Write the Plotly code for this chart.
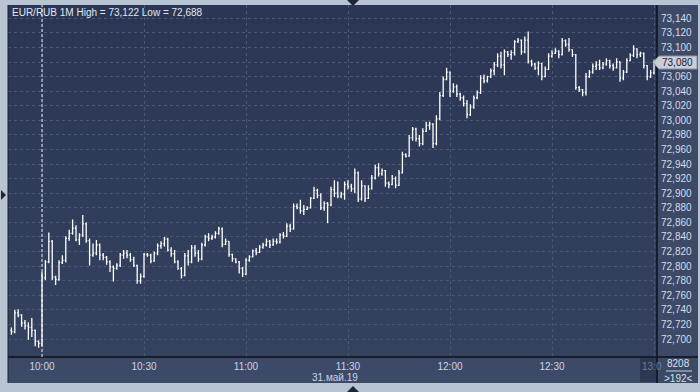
import base64
import pandas as pd
import plotly.graph_objects as go

# EUR/RUB 1-minute bars, 31 May 2019, 09:51 .. 13:00
# prices written in thousandths above 72.000 (e.g. 712 -> 72.712)
BASE = 72.0
start_time = "2019-05-31 09:51"

open_ = [
    712, 710, 736, 733, 722, 718, 716, 712, 697, 694,
    784, 806, 834, 785, 782, 805, 808, 838, 845, 852,
    836, 843, 858, 835, 815, 818, 829, 815, 812, 806,
    799, 797, 801, 815, 818, 815, 809, 801, 780, 786,
    816, 815, 807, 818, 828, 831, 837, 822, 817, 806,
    797, 787, 814, 806, 825, 818, 810, 829, 840, 838,
    840, 845, 851, 830, 834, 816, 810, 806, 797, 789,
    808, 813, 821, 819, 826, 829, 834, 829, 834, 833,
    843, 841, 855, 851, 882, 880, 876, 878, 880, 893,
    904, 897, 880, 886, 884, 905, 900, 896, 899, 912,
    909, 906, 928, 892, 910, 893, 906, 921, 935, 927,
    931, 914, 912, 920, 911, 928, 953, 951, 976, 988,
    975, 968, 985, 993, 995, 968, 1002, 1034, 1056, 1066,
    1040, 1046, 1036, 1031, 1023, 1008, 1018, 1031, 1038, 1058,
    1054, 1060, 1068, 1076, 1088, 1076, 1094, 1090, 1093, 1108,
    1110, 1094, 1110, 1081, 1077, 1072, 1078, 1060, 1070, 1088,
    1092, 1095, 1090, 1109, 1104, 1097, 1090, 1045, 1042, 1038,
    1060, 1066, 1074, 1076, 1072, 1077, 1082, 1075, 1072, 1080,
    1058, 1066, 1082, 1089, 1098, 1090, 1092, 1075, 1060, 1065,
]
high = [
    716, 740, 741, 734, 726, 723, 729, 713, 698, 792,
    808, 846, 836, 787, 808, 815, 841, 850, 864, 856,
    845, 870, 860, 838, 831, 836, 831, 818, 814, 808,
    801, 804, 818, 822, 822, 818, 813, 802, 790, 818,
    818, 817, 820, 831, 834, 840, 839, 826, 822, 808,
    799, 818, 822, 829, 829, 822, 832, 843, 845, 843,
    848, 854, 853, 838, 834, 817, 811, 807, 799, 811,
    815, 823, 825, 829, 832, 838, 836, 838, 838, 845,
    847, 859, 858, 886, 886, 891, 884, 882, 895, 909,
    906, 900, 889, 888, 909, 918, 916, 902, 916, 918,
    913, 934, 930, 918, 911, 911, 925, 939, 941, 934,
    932, 916, 925, 923, 932, 957, 955, 980, 991, 990,
    980, 989, 998, 998, 996, 1007, 1039, 1060, 1072, 1067,
    1051, 1049, 1038, 1034, 1028, 1022, 1034, 1041, 1062, 1063,
    1061, 1071, 1080, 1092, 1094, 1097, 1095, 1096, 1110, 1113,
    1111, 1115, 1122, 1083, 1079, 1081, 1079, 1074, 1092, 1096,
    1099, 1096, 1113, 1111, 1113, 1097, 1091, 1047, 1043, 1065,
    1069, 1078, 1081, 1083, 1080, 1085, 1083, 1078, 1085, 1081,
    1069, 1085, 1092, 1103, 1099, 1094, 1093, 1076, 1069, 1083,
]
low = [
    706, 708, 730, 717, 713, 699, 703, 690, 688, 690,
    781, 804, 781, 774, 780, 803, 805, 835, 843, 834,
    829, 840, 832, 801, 813, 815, 808, 808, 802, 792,
    779, 795, 799, 810, 811, 806, 799, 776, 776, 784,
    813, 804, 806, 815, 824, 827, 820, 813, 804, 795,
    783, 786, 801, 804, 813, 806, 808, 827, 834, 836,
    838, 843, 826, 829, 813, 806, 804, 790, 785, 788,
    806, 812, 815, 818, 824, 827, 825, 828, 830, 831,
    838, 840, 847, 850, 878, 872, 870, 877, 879, 892,
    893, 877, 876, 859, 882, 895, 893, 893, 891, 905,
    902, 900, 888, 890, 888, 892, 905, 919, 923, 924,
    909, 907, 911, 907, 910, 927, 949, 950, 972, 971,
    964, 966, 984, 987, 962, 966, 1000, 1032, 1055, 1032,
    1038, 1032, 1027, 1019, 1003, 1006, 1016, 1029, 1036, 1051,
    1052, 1058, 1062, 1073, 1071, 1062, 1087, 1083, 1089, 1106,
    1090, 1092, 1078, 1074, 1069, 1062, 1055, 1059, 1069, 1086,
    1091, 1085, 1089, 1101, 1094, 1087, 1042, 1039, 1033, 1034,
    1058, 1064, 1069, 1069, 1070, 1075, 1071, 1068, 1071, 1053,
    1055, 1065, 1081, 1087, 1085, 1087, 1071, 1055, 1058, 1063,
]
close = [
    710, 736, 733, 722, 718, 716, 712, 697, 694, 784,
    806, 834, 785, 782, 805, 808, 838, 845, 852, 836,
    843, 858, 835, 815, 818, 829, 815, 812, 806, 799,
    797, 801, 815, 818, 815, 809, 801, 780, 786, 816,
    815, 807, 818, 828, 831, 837, 822, 817, 806, 797,
    787, 814, 806, 825, 818, 810, 829, 840, 838, 840,
    845, 851, 830, 834, 816, 810, 806, 797, 789, 808,
    813, 821, 819, 826, 829, 834, 829, 834, 833, 843,
    841, 855, 851, 882, 880, 876, 878, 880, 893, 904,
    897, 880, 886, 884, 905, 900, 896, 899, 912, 909,
    906, 928, 892, 910, 893, 906, 921, 935, 927, 931,
    914, 912, 920, 911, 928, 953, 951, 976, 988, 975,
    968, 985, 993, 995, 968, 1002, 1034, 1056, 1066, 1040,
    1046, 1036, 1031, 1023, 1008, 1018, 1031, 1038, 1058, 1054,
    1060, 1068, 1076, 1088, 1076, 1094, 1090, 1093, 1108, 1110,
    1094, 1110, 1081, 1077, 1072, 1078, 1060, 1070, 1088, 1092,
    1095, 1090, 1109, 1104, 1097, 1090, 1045, 1042, 1038, 1060,
    1066, 1074, 1076, 1072, 1077, 1082, 1075, 1072, 1080, 1058,
    1066, 1082, 1089, 1098, 1090, 1092, 1075, 1060, 1065, 1080,
]

x_tick_vals = ["2019-05-31 10:00", "2019-05-31 10:30", "2019-05-31 11:00",
               "2019-05-31 11:30", "2019-05-31 12:00", "2019-05-31 12:30",
               "2019-05-31 13:00"]
x_tick_text = ["10:00", "10:30", "11:00", "11:30", "12:00", "12:30", ""]
y_tick_vals = [72.70, 72.72, 72.74, 72.76, 72.78, 72.80, 72.82, 72.84, 72.86,
               72.88, 72.90, 72.92, 72.94, 72.96, 72.98, 73.00, 73.02, 73.04,
               73.06, 73.08, 73.10, 73.12, 73.14]

title_text = "EUR/RUB 1M High = 73,122 Low = 72,688"
date_text = "31.май.19"
last_price_text = "73,080"

times = pd.date_range(start_time, periods=len(close), freq="min")
conv = lambda a: [BASE + v / 1000.0 for v in a]

FONT = "Liberation Sans, Arial, sans-serif"
W, H = 700, 392
ML, MR, MT, MB = 8, 43, 5, 35
PW, PH = W - ML - MR, H - MT - MB


def px(xp):
    return (xp - ML) / PW


def py(yp):
    return (H - MB - yp) / PH


# vertical background gradient of the plotting area
svg = ("<svg xmlns='http://www.w3.org/2000/svg' width='10' height='100' preserveAspectRatio='none'>"
       "<defs><linearGradient id='g' x1='0' y1='0' x2='0' y2='1'>"
       "<stop offset='0' stop-color='#2a3653'/><stop offset='1' stop-color='#35425f'/>"
       "</linearGradient></defs><rect width='10' height='100' fill='url(#g)'/></svg>")
bg_uri = "data:image/svg+xml;base64," + base64.b64encode(svg.encode()).decode()

fig = go.Figure()
fig.add_trace(go.Ohlc(
    x=times, open=conv(open_), high=conv(high), low=conv(low), close=conv(close),
    increasing=dict(line=dict(color="#ffffff", width=1.3)),
    decreasing=dict(line=dict(color="#ffffff", width=1.3)),
    tickwidth=0.32, hoverinfo="skip", showlegend=False,
))

grid = "#4a5878"
panel = "#3c4a67"
shapes = [
    # axis panels (right and bottom)
    dict(type="rect", xref="paper", yref="paper", x0=1, x1=px(698), y0=py(383), y1=py(5),
         fillcolor=panel, line=dict(width=0), layer="below"),
    dict(type="rect", xref="paper", yref="paper", x0=px(8), x1=1, y0=py(383), y1=0,
         fillcolor=panel, line=dict(width=0), layer="below"),
    # 13:0 dark box
    dict(type="rect", xref="paper", yref="paper", x0=px(640), x1=px(656), y0=py(382), y1=py(358),
         fillcolor="#2c3752", line=dict(width=0), layer="above"),
    # separators
    dict(type="line", xref="paper", yref="paper", x0=1, x1=1, y0=py(383), y1=py(5),
         line=dict(color="#0d1018", width=1.5), layer="above"),
    dict(type="line", xref="paper", yref="paper", x0=0, x1=px(698), y0=0, y1=0,
         line=dict(color="#0d1018", width=1.5), layer="above"),
    dict(type="line", xref="paper", yref="paper", x0=px(8), x1=px(8), y0=py(383), y1=py(5),
         line=dict(color="#1a2030", width=1), layer="above"),
    dict(type="line", xref="paper", yref="paper", x0=px(666), x1=px(692), y0=py(371), y1=py(371),
         line=dict(color="#c8d0dc", width=1), layer="above"),
    # cursor line at 10:00
    dict(type="line", xref="x", yref="paper", x0="2019-05-31 10:00", x1="2019-05-31 10:00",
         y0=0, y1=1, line=dict(color="rgba(255,255,255,0.9)", width=1, dash="3px,2px"),
         layer="above"),
    # last price marker
    dict(type="path", xref="paper", yref="paper",
         path=(f"M {px(653)},{py(62.5)} L {px(659)},{py(56)} L {px(697)},{py(56)} "
               f"L {px(697)},{py(69)} L {px(659)},{py(69)} Z"),
         fillcolor="#c9ced8", line=dict(color="#8a93a3", width=1), layer="above"),
    # frame arrows
    dict(type="path", xref="paper", yref="paper",
         path=f"M {px(347)},{py(0)} L {px(359)},{py(0)} L {px(353)},{py(6)} Z",
         fillcolor="#1e2635", line=dict(width=0), layer="above"),
    dict(type="path", xref="paper", yref="paper",
         path=f"M {px(347)},{py(392)} L {px(359)},{py(392)} L {px(353)},{py(386)} Z",
         fillcolor="#1e2635", line=dict(width=0), layer="above"),
    dict(type="path", xref="paper", yref="paper",
         path=f"M {px(1)},{py(190)} L {px(1)},{py(200)} L {px(6)},{py(195)} Z",
         fillcolor="#1e2635", line=dict(width=0), layer="above"),
]

annotations = [
    dict(text=title_text, xref="paper", yref="paper", x=px(10), y=py(12),
         xanchor="left", yanchor="middle", showarrow=False,
         font=dict(family=FONT, size=10, color="#e2e8f0")),
    dict(text=date_text, xref="paper", yref="paper", x=px(335), y=py(377),
         xanchor="center", yanchor="middle", showarrow=False,
         font=dict(family=FONT, size=10, color="#c9d5e8")),
    dict(text="13:0", xref="paper", yref="paper", x=px(640), y=py(366),
         xanchor="left", yanchor="middle", showarrow=False,
         font=dict(family=FONT, size=10, color="#6f7c93")),
    dict(text="8208", xref="paper", yref="paper", x=px(679), y=py(364),
         xanchor="center", yanchor="middle", showarrow=False,
         font=dict(family=FONT, size=10, color="#d8e0ec")),
    dict(text="&gt;192&lt;", xref="paper", yref="paper", x=px(679), y=py(378),
         xanchor="center", yanchor="middle", showarrow=False,
         font=dict(family=FONT, size=10, color="#d8e0ec")),
    dict(text=last_price_text, xref="paper", yref="paper", x=px(660), y=py(62.5),
         xanchor="left", yanchor="middle", showarrow=False,
         font=dict(family=FONT, size=10, color="#1b2233")),
]

fig.update_layout(
    width=W, height=H,
    margin=dict(l=ML, r=MR, t=MT, b=MB, pad=0),
    paper_bgcolor="#b9c4d3",
    plot_bgcolor="rgba(0,0,0,0)",
    separators=", ",
    font=dict(family=FONT, size=10, color="#d3dcea"),
    shapes=shapes, annotations=annotations,
    images=[dict(source=bg_uri, xref="paper", yref="paper", x=0, y=1, sizex=1, sizey=1,
                 xanchor="left", yanchor="top", sizing="stretch", layer="below")],
    xaxis=dict(
        type="date", range=["2019-05-31 09:50:00", "2019-05-31 13:00:53"],
        rangeslider=dict(visible=False),
        tickmode="array", tickvals=x_tick_vals, ticktext=x_tick_text,
        showgrid=True, gridcolor=grid, griddash="3px,3px", gridwidth=1,
        zeroline=False, showline=False, ticks="",
        tickfont=dict(family=FONT, size=10, color="#c9d5e8"),
        ticklabelstandoff=2, fixedrange=True,
    ),
    yaxis=dict(
        side="right", range=[72.6754, 73.1582],
        tickmode="array", tickvals=y_tick_vals, tickformat=".3f",
        showgrid=True, gridcolor=grid, griddash="3px,3px", gridwidth=1,
        zeroline=False, showline=False, ticks="",
        tickfont=dict(family=FONT, size=10, color="#d3dcea"),
        ticklabelstandoff=3, fixedrange=True,
    ),
)

fig.write_html("out.html")
